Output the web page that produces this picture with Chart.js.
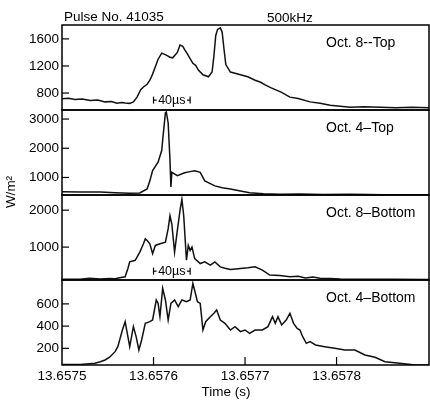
<!DOCTYPE html>
<html>
<head>
<meta charset="utf-8">
<style>
  html, body { margin: 0; padding: 0; background: #fff; }
  #chart-container { width: 430px; height: 402px; position: relative; }
</style>
</head>
<body>
<div id="chart-container"><canvas id="pulse-chart"></canvas></div>
<script src="https://cdn.jsdelivr.net/npm/chart.js@4.4.1/dist/chart.umd.min.js"></script>
<script>
// Time values are microseconds after 13.6575 s
const T0 = 13.6575;

const oct8TopTime = [0, 7, 14, 22, 31, 39, 47, 54, 60, 65, 69, 74, 78, 82, 86, 89, 93, 96, 99, 102, 105, 109, 114, 118, 121, 126, 129, 132, 134, 137, 139, 143, 146, 149, 154, 160, 164, 166, 168, 170, 173, 175, 177, 179, 184, 190, 195, 203, 211, 217, 222, 228, 233, 240, 249, 258, 271, 282, 293, 304, 315, 330, 348, 365, 382, 401];
const oct8TopValues = [716, 722, 705, 712, 690, 698, 670, 676, 650, 662, 655, 648, 670, 740, 850, 890, 930, 990, 1080, 1190, 1300, 1390, 1360, 1330, 1320, 1400, 1510, 1490, 1440, 1380, 1330, 1240, 1210, 1140, 1070, 1040, 1110, 1350, 1650, 1740, 1762, 1700, 1450, 1220, 1110, 1090, 1070, 1040, 990, 960, 920, 880, 850, 810, 740, 720, 670, 650, 620, 605, 590, 598, 590, 584, 592, 585];

const oct4TopTime = [0, 20, 42, 58, 74, 85, 93, 96, 99, 105, 109, 110, 113, 114, 116, 118, 119, 120, 126, 134, 140, 145, 151, 156, 167, 175, 184, 195, 205, 220, 238, 260, 285, 315, 350, 401];
const oct4TopValues = [513, 505, 500, 480, 457, 470, 607, 885, 1233, 1522, 1929, 2277, 3216, 3240, 2866, 1580, 676, 1174, 1060, 1164, 1200, 1233, 1174, 885, 711, 650, 607, 540, 478, 445, 422, 430, 415, 422, 412, 410];

const oct8BottomTime = [0, 20, 30, 42, 52, 58, 63, 69, 72, 74, 80, 85, 89, 91, 93, 96, 99, 102, 107, 113, 116, 118, 120, 123, 126, 129, 131, 133, 136, 138, 140, 142, 145, 151, 156, 162, 167, 173, 178, 184, 190, 195, 203, 211, 219, 227, 238, 249, 258, 266, 274, 282, 293, 304, 330, 360, 401];
const oct8BottomValues = [130, 130, 160, 140, 150, 145, 171, 198, 422, 600, 644, 866, 1090, 1224, 1180, 1090, 822, 1045, 1090, 1134, 1500, 1848, 1625, 866, 1446, 2000, 2294, 1848, 644, 1045, 912, 1000, 688, 555, 600, 510, 600, 465, 430, 395, 410, 422, 440, 465, 377, 243, 230, 198, 210, 163, 190, 155, 150, 136, 132, 128, 125];

const oct4BottomTime = [0, 20, 36, 42, 47, 52, 58, 61, 66, 69, 72, 74, 78, 81, 84, 87, 91, 96, 99, 103, 105, 107, 110, 113, 116, 119, 123, 127, 131, 136, 140, 143, 148, 151, 154, 157, 162, 166, 169, 173, 178, 184, 189, 195, 200, 205, 211, 219, 225, 230, 233, 236, 240, 245, 249, 253, 257, 260, 263, 267, 271, 277, 287, 298, 309, 320, 331, 342, 353, 369, 386, 401];
const oct4BottomValues = [55, 55, 65, 80, 95, 120, 170, 215, 365, 440, 305, 215, 395, 305, 185, 275, 425, 440, 455, 635, 605, 485, 740, 635, 455, 605, 635, 575, 635, 620, 635, 785, 620, 605, 365, 440, 485, 515, 545, 455, 425, 365, 395, 350, 365, 335, 365, 365, 395, 485, 425, 485, 410, 455, 515, 425, 380, 365, 305, 245, 260, 230, 215, 200, 185, 185, 140, 120, 80, 65, 50, 50];

const panelLabels = ['Oct. 8--Top', 'Oct. 4\u2013Top', 'Oct. 8\u2013Bottom', 'Oct. 4\u2013Bottom'];
const panelMin = [550, 400, 110, 50];
const panelMax = [1805, 3310, 2410, 815];
const panelTicks = [[800, 1200, 1600], [1000, 2000, 3000], [1000, 2000], [200, 400, 600]];
const xTickValues = [0, 100, 200, 300];
const scaleBarStart = 100; // µs
const scaleBarLength = 40; // µs

const FONT_FAMILY = '"Liberation Sans", Arial, Helvetica, sans-serif';
const panelIds = ['yTop8', 'yTop4', 'yBot8', 'yBot4'];

/**
 * Zips a time array and a value array into Chart.js points.
 */
function toPoints(times, values) {
  return times.map((t, i) => ({ x: t, y: values[i] }));
}

/**
 * Builds one of the stacked y axes.
 * @param {int} i Panel index, top to bottom.
 */
function panelAxis(i) {
  return {
    type: 'linear',
    position: 'left',
    stack: 'panels',
    stackWeight: 1,
    min: panelMin[i],
    max: panelMax[i],
    afterBuildTicks: (scale) => { scale.ticks = panelTicks[i].map((v) => ({ value: v })); },
    afterFit: (scale) => { scale.width = 62; },
    grid: { drawOnChartArea: false, drawTicks: false },
    border: { display: false },
    ticks: {
      padding: 3,
      color: '#000',
      font: { family: FONT_FAMILY, size: 13.5 },
      callback: (v) => String(v),
    },
  };
}

function line(ctx, x1, y1, x2, y2) {
  ctx.beginPath();
  ctx.moveTo(x1, y1);
  ctx.lineTo(x2, y2);
  ctx.stroke();
}

/**
 * Draws the 40µs marker centred on a value of a panel.
 */
function drawScaleBar(chart, axisId, value) {
  const { ctx } = chart;
  const xs = chart.scales.x;
  const x1 = xs.getPixelForValue(scaleBarStart);
  const x2 = xs.getPixelForValue(scaleBarStart + scaleBarLength);
  const y = chart.scales[axisId].getPixelForValue(value);
  ctx.font = `12.5px ${FONT_FAMILY}`;
  ctx.textAlign = 'center';
  ctx.textBaseline = 'middle';
  const label = `${scaleBarLength}\u00b5s`;
  const half = ctx.measureText(label).width / 2 + 1.5;
  const mid = (x1 + x2) / 2;
  ctx.lineWidth = 1.2;
  line(ctx, x1, y - 3.5, x1, y + 3.5);
  line(ctx, x2, y - 3.5, x2, y + 3.5);
  line(ctx, x1, y, mid - half, y);
  line(ctx, mid + half, y, x2, y);
  ctx.fillText(label, mid, y);
}

// Frames, inner ticks and the texts the library has no slot for
const overlayPlugin = {
  id: 'overlay',
  afterDraw(chart) {
    const { ctx, chartArea } = chart;
    const xs = chart.scales.x;
    ctx.save();
    ctx.strokeStyle = '#000';
    ctx.fillStyle = '#000';

    panelIds.forEach((id, i) => {
      const s = chart.scales[id];
      ctx.lineWidth = 1.5;
      ctx.strokeRect(chartArea.left, s.top, chartArea.right - chartArea.left, s.bottom - s.top);
      ctx.lineWidth = 1.2;
      s.ticks.forEach((t) => {
        const y = s.getPixelForValue(t.value);
        line(ctx, chartArea.left, y, chartArea.left + 7, y);
      });
      ctx.font = `14px ${FONT_FAMILY}`;
      ctx.textAlign = 'left';
      ctx.textBaseline = 'middle';
      ctx.fillText(panelLabels[i], 326, s.top + 18.5);
    });

    ctx.lineWidth = 1.2;
    xTickValues.slice(1).forEach((v) => {
      const x = xs.getPixelForValue(v);
      line(ctx, x, chartArea.bottom, x, chartArea.bottom - 8);
    });

    drawScaleBar(chart, 'yTop8', 696);
    drawScaleBar(chart, 'yBot8', 350);

    ctx.font = `13.5px ${FONT_FAMILY}`;
    ctx.textAlign = 'left';
    ctx.textBaseline = 'alphabetic';
    ctx.fillText('Pulse No. 41035', 64, 21);
    ctx.fillText('500kHz', 267, 22);

    ctx.textAlign = 'center';
    ctx.textBaseline = 'middle';
    ctx.fillText('Time (s)', 226, 392);

    ctx.translate(11, 192);
    ctx.rotate(-Math.PI / 2);
    ctx.fillText('W/m\u00b2', 0, 0);
    ctx.restore();
  },
};

const series = [
  { id: 'yTop8', data: toPoints(oct8TopTime, oct8TopValues) },
  { id: 'yTop4', data: toPoints(oct4TopTime, oct4TopValues) },
  { id: 'yBot8', data: toPoints(oct8BottomTime, oct8BottomValues) },
  { id: 'yBot4', data: toPoints(oct4BottomTime, oct4BottomValues) },
];

const canvasElem = document.getElementById('pulse-chart').getContext('2d');
const chart = new Chart(canvasElem, {
  type: 'line',
  data: {
    datasets: series.map((s, i) => ({
      label: panelLabels[i],
      data: s.data,
      yAxisID: s.id,
      borderColor: '#111',
      borderWidth: 1.5,
      pointRadius: 0,
      tension: 0,
      fill: false,
    })),
  },
  options: {
    responsive: true,
    maintainAspectRatio: false,
    animation: false,
    layout: { padding: { top: 25, right: 1, left: 0, bottom: 0 } },
    plugins: {
      legend: { display: false },
      title: { display: false },
      tooltip: { enabled: false },
    },
    scales: {
      x: {
        type: 'linear',
        min: 0,
        max: 401,
        afterBuildTicks: (scale) => { scale.ticks = xTickValues.map((v) => ({ value: v })); },
        afterFit: (scale) => { scale.height = 37; },
        grid: { drawOnChartArea: false, drawTicks: false },
        border: { display: false },
        ticks: {
          padding: 3,
          color: '#000',
          maxRotation: 0,
          autoSkip: false,
          font: { family: FONT_FAMILY, size: 13.5 },
          callback: (v) => (T0 + v * 1e-6).toFixed(4),
        },
      },
      // bottom panel first: the layout stacks later axes above
      yBot4: panelAxis(3),
      yBot8: panelAxis(2),
      yTop4: panelAxis(1),
      yTop8: panelAxis(0),
    },
  },
  plugins: [overlayPlugin],
});
</script>
</body>
</html>
